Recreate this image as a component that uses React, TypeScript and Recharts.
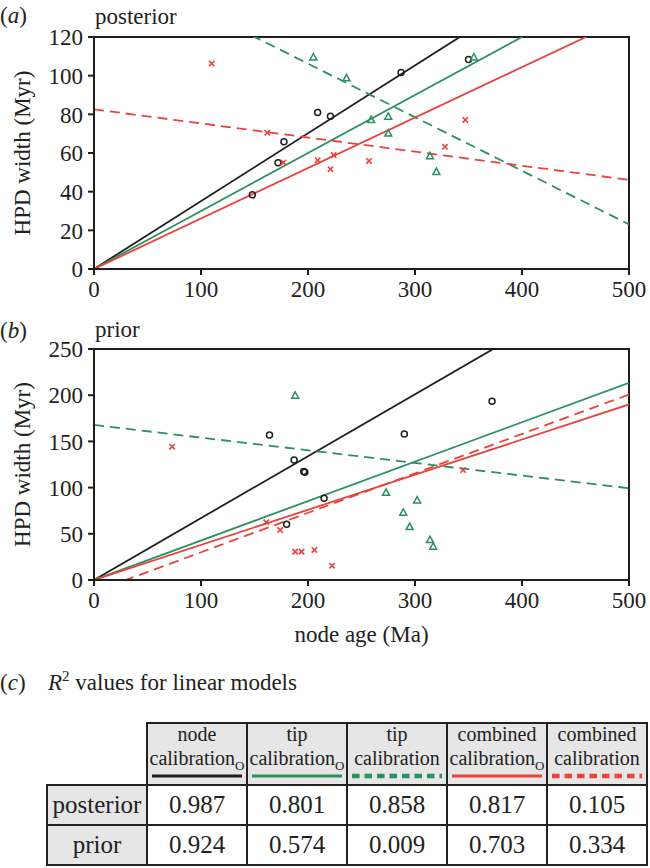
import React from 'react';
import { ScatterChart, Scatter, XAxis, YAxis, ReferenceLine, ReferenceArea } from 'recharts';

const BLACK = '#1e1e1e';
const GREEN = '#2a9063';
const RED = '#e8433c';
const FONT = 'Liberation Serif, Times New Roman, serif';

const xTicks = [0, 100, 200, 300, 400, 500];
const posteriorTicks = [0, 20, 40, 60, 80, 100, 120];
const priorTicks = [0, 50, 100, 150, 200, 250];

// (a) posterior: node age (Ma) vs HPD width (Myr)
const posteriorNode = [
  { x: 148, y: 38.4 }, { x: 172, y: 54.9 }, { x: 177.5, y: 65.8 }, { x: 209, y: 80.9 },
  { x: 221, y: 79 }, { x: 287, y: 101.7 }, { x: 350, y: 108.3 },
];
const posteriorTip = [
  { x: 205, y: 109.5 }, { x: 236, y: 98.7 }, { x: 259, y: 77.1 }, { x: 275, y: 78.8 },
  { x: 275, y: 70.1 }, { x: 314, y: 58.4 }, { x: 320, y: 50.2 }, { x: 355, y: 109.5 },
];
const posteriorCombined = [
  { x: 110, y: 106.3 }, { x: 162, y: 70.5 }, { x: 177, y: 55.1 }, { x: 209, y: 56.3 },
  { x: 221, y: 51.6 }, { x: 224, y: 58.9 }, { x: 257, y: 55.9 }, { x: 328, y: 63.2 },
  { x: 347, y: 77.1 },
];

// (b) prior
const priorNode = [
  { x: 164, y: 157 }, { x: 187, y: 130 }, { x: 196, y: 117.3 }, { x: 197, y: 116.5 },
  { x: 180, y: 60.3 }, { x: 215, y: 88.4 }, { x: 290, y: 158 }, { x: 372, y: 193.4 },
];
const priorTip = [
  { x: 188, y: 199.5 }, { x: 273, y: 94.5 }, { x: 289, y: 72.9 }, { x: 302, y: 86.2 },
  { x: 295, y: 57.4 }, { x: 314, y: 43.3 }, { x: 317, y: 36.1 },
];
const priorCombined = [
  { x: 73, y: 144.3 }, { x: 161, y: 62.4 }, { x: 174, y: 54.1 }, { x: 188, y: 30.7 },
  { x: 194, y: 30.7 }, { x: 206, y: 32.5 }, { x: 222.5, y: 15.5 }, { x: 345, y: 119 },
];

// linear models, in table column order
const modelTop = ['node', 'tip', 'tip', 'combined', 'combined'];
const modelOrigin = [true, true, false, true, false];
const posteriorSlopes = [0.351, 0.3, -0.277, 0.261, -0.073];
const posteriorIntercepts = [0, 0, 161.6, 0, 82.6];
const priorSlopes = [0.67, 0.427, -0.137, 0.38, 0.427];
const priorIntercepts = [0, 0, 167.8, 0, -12.7];
const r2Posterior = [0.987, 0.801, 0.858, 0.817, 0.105];
const r2Prior = [0.924, 0.574, 0.009, 0.703, 0.334];

const modelColors = [BLACK, GREEN, GREEN, RED, RED];

const Circle = (props: any) => (
  <circle cx={props.cx} cy={props.cy} r={3} fill="none" stroke={BLACK} strokeWidth={1.5} />
);
const Triangle = (props: any) => {
  const { cx, cy } = props;
  return (
    <path d={`M${cx},${cy - 3.8}L${cx + 3.5},${cy + 2.6}L${cx - 3.5},${cy + 2.6}Z`}
      fill="none" stroke={GREEN} strokeWidth={1.5} />
  );
};
const Cross = (props: any) => {
  const { cx, cy } = props;
  const s = 2.7;
  return (
    <path d={`M${cx - s},${cy - s}L${cx + s},${cy + s}M${cx - s},${cy + s}L${cx + s},${cy - s}`}
      stroke={RED} strokeWidth={1.6} />
  );
};

// default tick text ignored the font, so draw it ourselves
const XTick = ({ x, y, payload }: any) => (
  <text x={x} y={y} dy="0.71em" textAnchor="middle" fill="#222" fontSize={23} fontFamily={FONT}>
    {payload.value}
  </text>
);
const YTick = ({ x, y, payload }: any) => (
  <text x={x} y={y} dy="0.36em" textAnchor="end" fill="#222" fontSize={23} fontFamily={FONT}>
    {payload.value}
  </text>
);

interface PanelProps {
  height: number;
  top: number;
  xAxisHeight: number;
  yMax: number;
  yTicks: number[];
  node: { x: number; y: number }[];
  tip: { x: number; y: number }[];
  combined: { x: number; y: number }[];
  slopes: number[];
  intercepts: number[];
  xLabel?: string;
}

const labelStyle = { fontSize: 23, fill: '#222', fontFamily: FONT };

const Panel: React.FC<PanelProps> = (p) => (
  <ScatterChart width={650} height={p.height}
    margin={{ top: p.top, right: 21, bottom: 0, left: 0 }}>
    <XAxis type="number" dataKey="x" domain={[0, 500]} ticks={xTicks} interval={0}
      axisLine={{ stroke: BLACK, strokeWidth: 2 }} tickLine={{ stroke: BLACK, strokeWidth: 2 }}
      tickSize={6} tickMargin={6} tick={<XTick />} height={p.xAxisHeight}
      label={p.xLabel ? { value: p.xLabel, position: 'insideBottom', offset: 28, style: labelStyle } : undefined} />
    <YAxis type="number" dataKey="y" domain={[0, p.yMax]} ticks={p.yTicks} interval={0}
      axisLine={{ stroke: BLACK, strokeWidth: 2 }} tickLine={{ stroke: BLACK, strokeWidth: 2 }}
      tickSize={6} tickMargin={5} tick={<YTick />} width={94}
      label={{ value: 'HPD width (Myr)', angle: -90, position: 'insideLeft', offset: 22, style: { ...labelStyle, textAnchor: 'middle' } }} />
    <ReferenceArea x1={0} x2={500} y1={0} y2={p.yMax} fill="none" stroke={BLACK} strokeWidth={2} fillOpacity={0} />
    {p.slopes.map((m, i) => (
      <ReferenceLine key={i} ifOverflow="hidden"
        segment={[{ x: 0, y: p.intercepts[i] }, { x: 500, y: p.intercepts[i] + m * 500 }]}
        stroke={modelColors[i]} strokeWidth={1.8}
        strokeDasharray={modelOrigin[i] ? undefined : '10 6'} />
    ))}
    <Scatter data={p.node} shape={Circle} isAnimationActive={false} />
    <Scatter data={p.tip} shape={Triangle} isAnimationActive={false} />
    <Scatter data={p.combined} shape={Cross} isAnimationActive={false} />
  </ScatterChart>
);

const PanelLetter: React.FC<{ letter: string; top: number }> = ({ letter, top }) => (
  <div style={{ position: 'absolute', left: 0, top, fontSize: 23, lineHeight: '23px' }}>
    (<i>{letter}</i>)
  </div>
);

const cellBorder = '2px solid #222';

const R2Table: React.FC = () => (
  <table style={{ position: 'absolute', left: 46, top: 722, borderCollapse: 'collapse', tableLayout: 'fixed', width: 602 }}>
    <colgroup>
      {[0, 1, 2, 3, 4, 5].map((i) => <col key={i} style={{ width: 100 }} />)}
    </colgroup>
    <thead>
      <tr>
        <th style={{ border: 'none', background: '#fff' }} />
        {modelTop.map((name, i) => (
          <th key={i} style={{ border: cellBorder, background: '#e6e6e6', padding: 0, height: 60,
            verticalAlign: 'top', fontWeight: 'normal', fontSize: 20, lineHeight: '24px', color: '#222' }}>
            <div style={{ marginTop: -2 }}>{name}</div>
            <div style={{ whiteSpace: 'nowrap' }}>
              calibration{modelOrigin[i] && <sub style={{ fontSize: 13, lineHeight: 0 }}>O</sub>}
            </div>
            <svg width={90} height={6} style={{ display: 'block', margin: '3px auto 0' }}>
              <line x1={0} x2={90} y1={3} y2={3} stroke={modelColors[i]}
                strokeWidth={modelOrigin[i] ? 3 : 4.5}
                strokeDasharray={modelOrigin[i] ? undefined : '7.5 5'} />
            </svg>
          </th>
        ))}
      </tr>
    </thead>
    <tbody>
      {[['posterior', r2Posterior], ['prior', r2Prior]].map(([label, vals]) => (
        <tr key={label as string}>
          <td style={{ border: cellBorder, background: '#e6e6e6', padding: 0, height: 38,
            textAlign: 'center', fontSize: 25, color: '#222' }}>{label as string}</td>
          {(vals as number[]).map((v, i) => (
            <td key={i} style={{ border: cellBorder, background: '#fff', padding: 0,
              textAlign: 'center', fontSize: 25, color: '#222' }}>{v.toFixed(3)}</td>
          ))}
        </tr>
      ))}
    </tbody>
  </table>
);

export default function App() {
  return (
    <div style={{ position: 'relative', width: 650, height: 868, fontFamily: FONT, color: '#222', background: '#fff' }}>
      <style>{'body{margin:0}'}</style>
      <PanelLetter letter="a" top={4} />
      <div style={{ position: 'absolute', left: 95, top: 5, fontSize: 23, lineHeight: '23px' }}>posterior</div>
      <div style={{ position: 'absolute', left: 0, top: 0 }}>
        <Panel height={310} top={37} xAxisHeight={41} yMax={120} yTicks={posteriorTicks}
          node={posteriorNode} tip={posteriorTip} combined={posteriorCombined}
          slopes={posteriorSlopes} intercepts={posteriorIntercepts} />
      </div>
      <PanelLetter letter="b" top={319} />
      <div style={{ position: 'absolute', left: 95, top: 318, fontSize: 23, lineHeight: '23px' }}>prior</div>
      <div style={{ position: 'absolute', left: 0, top: 310 }}>
        <Panel height={360} top={39} xAxisHeight={90} yMax={250} yTicks={priorTicks}
          node={priorNode} tip={priorTip} combined={priorCombined}
          slopes={priorSlopes} intercepts={priorIntercepts} xLabel="node age (Ma)" />
      </div>
      <PanelLetter letter="c" top={671} />
      <div style={{ position: 'absolute', left: 48, top: 671, fontSize: 23, lineHeight: '23px' }}>
        <i>R</i><sup style={{ fontSize: 15, lineHeight: 0 }}>2</sup> values for linear models
      </div>
      <R2Table />
    </div>
  );
}
